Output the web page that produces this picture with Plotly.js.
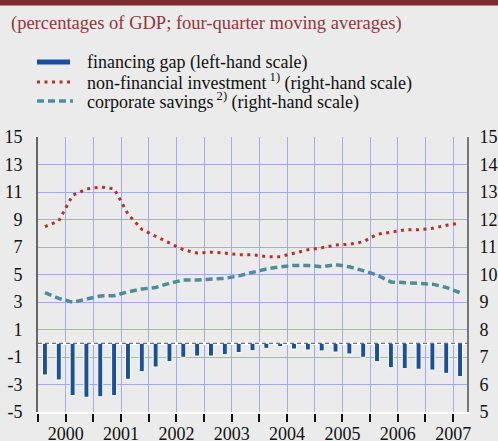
<!DOCTYPE html>
<html>
<head>
<meta charset="utf-8">
<script src="https://cdn.plot.ly/plotly-3.0.1.min.js"></script>
<style>html,body{margin:0;padding:0;background:#ebebeb;}#chart{width:498px;height:441px;}</style>
</head>
<body>
<div id="chart"></div>
<script>
// Quarterly observations (position = year + quarter)
const quarters = ['2000Q1','2000Q2','2000Q3','2000Q4','2001Q1','2001Q2','2001Q3','2001Q4',
  '2002Q1','2002Q2','2002Q3','2002Q4','2003Q1','2003Q2','2003Q3','2003Q4',
  '2004Q1','2004Q2','2004Q3','2004Q4','2005Q1','2005Q2','2005Q3','2005Q4',
  '2006Q1','2006Q2','2006Q3','2006Q4','2007Q1','2007Q2','2007Q3'];
// financing gap (left-hand scale)
const financingGap = [-2.31,-2.67,-3.81,-3.93,-3.89,-3.81,-2.62,-2.07,
  -1.73,-1.34,-1.02,-0.93,-0.93,-0.83,-0.68,-0.54,
  -0.37,-0.25,-0.42,-0.49,-0.56,-0.64,-0.78,-1.02,
  -1.34,-1.78,-1.85,-1.89,-1.95,-2.19,-2.43];
// non-financial investment (right-hand scale)
const investment = [11.74,11.95,12.88,13.11,13.18,13.12,12.20,11.64,
  11.39,11.13,10.90,10.78,10.81,10.78,10.72,10.72,
  10.65,10.65,10.77,10.90,10.97,11.07,11.10,11.19,
  11.46,11.53,11.62,11.63,11.68,11.79,11.87];
// corporate savings (right-hand scale)
const savings = [9.34,9.13,8.99,9.10,9.22,9.23,9.37,9.47,
  9.53,9.68,9.80,9.80,9.83,9.86,9.95,10.07,
  10.20,10.28,10.33,10.33,10.28,10.36,10.28,10.14,
  9.98,9.73,9.70,9.69,9.65,9.53,9.34];
const years = ['2000','2001','2002','2003','2004','2005','2006','2007'];
const leftTicks = [-5,-3,-1,1,3,5,7,9,11,13,15];
const rightTicks = [5,6,7,8,9,10,11,12,13,14,15];

const xq = quarters.map(q => parseInt(q.slice(0,4)) + (parseInt(q.slice(5)) - 0.5) / 4);
const tickvals = [], ticktext = [];
years.forEach(y => { tickvals.push(+y, +y + 0.5); ticktext.push('', y); });

const L = 38, R = 467, T = 137, B = 412;
const px = v => (v - L) / (R - L);
const py = v => (B - v) / (B - T);
const serif = 'Liberation Serif';
const blue = '#1a4f9f', red = '#b0342c', teal = '#4f8b98';

const traces = [
  {type:'bar', x:xq, y:financingGap, width:0.09, marker:{color:blue, line:{color:'#ffffff', width:1}},
   showlegend:false, hoverinfo:'skip'},
  {type:'scatter', mode:'lines', x:xq, y:investment, yaxis:'y2',
   line:{color:red, width:3, dash:'3px,4.5px'}, showlegend:false},
  {type:'scatter', mode:'lines', x:xq, y:savings, yaxis:'y2',
   line:{color:teal, width:3.5, dash:'7px,4px'}, showlegend:false}
];

const shapes = [
  {type:'rect', xref:'paper', yref:'paper', x0:px(0), x1:px(498), y0:py(0), y1:py(5.5), fillcolor:'#7d2b30', line:{width:0}},
  {type:'line', xref:'paper', yref:'y', x0:0, x1:1, y0:0, y1:0, line:{color:'#444', width:1, dash:'4px,3px'}},
  {type:'line', xref:'paper', yref:'paper', x0:px(37), x1:px(70), y0:py(62), y1:py(62), line:{color:blue, width:5}},
  {type:'line', xref:'paper', yref:'paper', x0:px(37), x1:px(73), y0:py(82), y1:py(82), line:{color:red, width:3, dash:'3px,4.5px'}},
  {type:'line', xref:'paper', yref:'paper', x0:px(37), x1:px(73), y0:py(101), y1:py(101), line:{color:teal, width:3.5, dash:'7px,4px'}}
];

const ann = (text, x, y, size, color) => ({text, xref:'paper', yref:'paper', x:px(x), y:py(y),
  xanchor:'left', yanchor:'middle', showarrow:false, font:{family:serif, size, color}});

const annotations = [
  ann('(percentages of GDP; four-quarter moving averages)', 9, 23, 18.5, '#8b3a3a'),
  ann('financing gap (left-hand scale)', 85, 62, 18, '#111'),
  ann('non-financial investment<sup> 1)</sup> (right-hand scale)', 85, 82, 18, '#111'),
  ann('corporate savings<sup> 2)</sup> (right-hand scale)', 85, 101, 18, '#111')
];

const layout = {
  width:498, height:441,
  margin:{l:L, r:498-R, t:T, b:441-B, pad:0},
  paper_bgcolor:'#ebebeb', plot_bgcolor:'#ebebeb',
  font:{family:serif, size:18, color:'#111'},
  showlegend:false,
  bargap:0,
  xaxis:{range:[2000,2007.75], tickmode:'array', tickvals, ticktext,
    showgrid:true, gridcolor:'#a3acea', gridwidth:1,
    showline:true, linecolor:'#ffffff', linewidth:2,
    ticks:'outside', ticklen:8, tickwidth:2, tickcolor:'#111', ticklabelstandoff:-4,
    tickfont:{family:serif, size:18, color:'#111'}, zeroline:false, fixedrange:true},
  yaxis:{range:[-5,15], tickmode:'array', tickvals:leftTicks, ticktext:leftTicks.map(String),
    showgrid:true, gridcolor:'#a3acea', gridwidth:1,
    zeroline:true, zerolinecolor:'#ffffff', zerolinewidth:3,
    showline:true, linecolor:'#666', linewidth:2, ticks:'', ticklabelstandoff:10,
    tickfont:{family:serif, size:18, color:'#111'}, fixedrange:true},
  yaxis2:{range:[5,15], overlaying:'y', side:'right', tickmode:'array', tickvals:rightTicks,
    ticktext:rightTicks.map(String), showgrid:false, zeroline:false,
    showline:true, linecolor:'#777', linewidth:2, ticks:'', ticklabelstandoff:7,
    tickfont:{family:serif, size:18, color:'#111'}, fixedrange:true},
  shapes, annotations
};

Plotly.newPlot('chart', traces, layout, {displayModeBar:false, staticPlot:true});
</script>
</body>
</html>
